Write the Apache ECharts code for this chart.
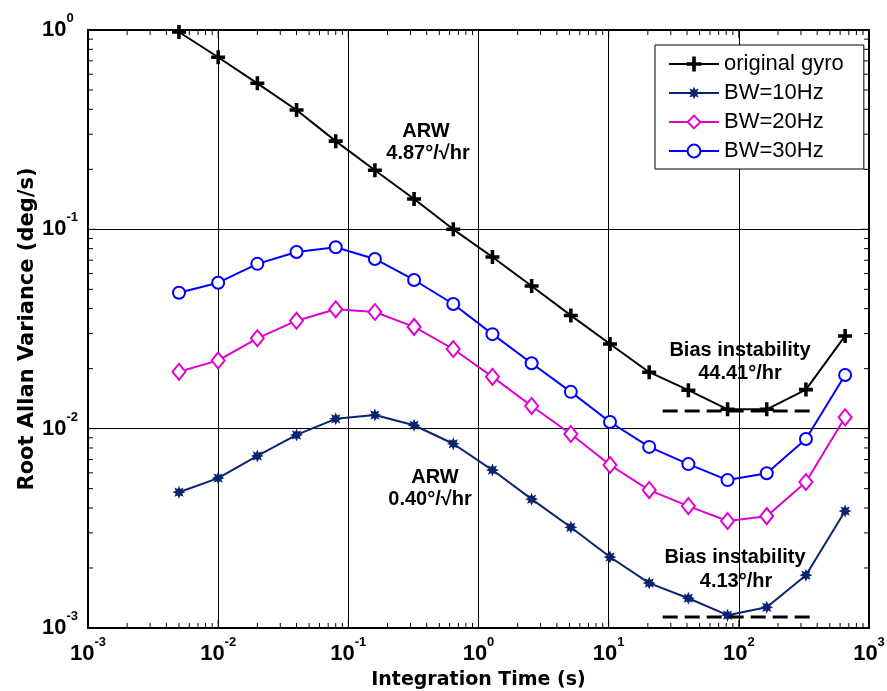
<!DOCTYPE html>
<html><head><meta charset="utf-8">
<script src="https://cdn.jsdelivr.net/npm/echarts@6/dist/echarts.min.js"></script>
<style>html,body{margin:0;padding:0;background:#fff}#c{width:887px;height:691px}</style>
</head><body><div id="c"></div>
<script>
// ---- data ----
const tau = [0.005, 0.01, 0.02, 0.04, 0.08, 0.16, 0.32, 0.64, 1.28, 2.56, 5.12, 10.24, 20.48, 40.96, 81.92, 163.84, 327.68, 655.36];
const originalGyro = [0.977, 0.73, 0.54, 0.397, 0.277, 0.198, 0.142, 0.100, 0.0726, 0.052, 0.037, 0.0266, 0.0192, 0.0156, 0.0125, 0.0125, 0.0157, 0.0292];
const bw10 = [0.0048, 0.00565, 0.0073, 0.0093, 0.0112, 0.0117, 0.0104, 0.0084, 0.0062, 0.00443, 0.0032, 0.00227, 0.00168, 0.00141, 0.00116, 0.00127, 0.00184, 0.00386];
const bw20 = [0.0193, 0.0220, 0.0284, 0.0348, 0.0397, 0.0385, 0.0324, 0.0251, 0.0182, 0.0130, 0.0094, 0.00657, 0.00492, 0.00409, 0.00344, 0.00364, 0.0054, 0.0114];
const bw30 = [0.0481, 0.0540, 0.0671, 0.0770, 0.0813, 0.071, 0.0557, 0.0422, 0.0298, 0.0213, 0.0153, 0.0108, 0.0081, 0.00664, 0.00552, 0.00598, 0.00887, 0.0186];
const biasOrigX = [26, 371];
const biasOrigY = [0.01226, 0.01226];
const biasBw10X = [26, 371];
const biasBw10Y = [0.001135, 0.001135];
const seriesNames = ['original gyro', 'BW=10Hz', 'BW=20Hz', 'BW=30Hz'];
const xDecades = [0.001, 0.01, 0.1, 1, 10, 100, 1000];
const yDecades = [0.001, 0.01, 0.1, 1];
const minorMult = [2, 3, 4, 5, 6, 7, 8, 9];
const notes = ['ARW', '4.87°/√hr', 'ARW', '0.40°/√hr', 'Bias instability', '44.41°/hr', 'Bias instability', '4.13°/hr'];
const xTitle = 'Integration Time (s)';
const yTitle = 'Root Allan Variance (deg/s)';

// ---- styles ----
const C_BLACK = '#000000', C_NAVY = '#0b2470', C_MAG = '#e000d0', C_BLUE = '#0000ff';
const FONT = '"Liberation Sans", Arial, sans-serif';
const plusPath = 'path://M-0.9,-7L0.9,-7L0.9,-0.9L7,-0.9L7,0.9L0.9,0.9L0.9,7L-0.9,7L-0.9,0.9L-7,0.9L-7,-0.9L-0.9,-0.9Z';
function starPath(n, ro, ri) {
  let s = 'path://';
  for (let i = 0; i < 2 * n; i++) {
    const r = i % 2 ? ri : ro;
    const a = Math.PI * i / n - Math.PI / 2;
    s += (i ? 'L' : 'M') + (r * Math.cos(a)).toFixed(3) + ',' + (r * Math.sin(a)).toFixed(3);
  }
  return s + 'Z';
}
const starSym = starPath(8, 7, 3.8);

function pairs(xs, ys) { return xs.map((x, i) => [x, ys[i]]); }
const xTicks = [], yTicks = [];
xDecades.forEach(d => { xTicks.push([d, 1, 1]); if (d < 1000) minorMult.forEach(m => xTicks.push([d * m, 1, 0])); });
yDecades.forEach(d => { yTicks.push([1, d, 1]); if (d < 1) minorMult.forEach(m => yTicks.push([1, d * m, 0])); });

const chart = echarts.init(document.getElementById('c'), null, { renderer: 'canvas' });
const expLabel = v => '{b|10}{s|' + Math.round(Math.log10(v)) + '}';
const tickLine = (x1, y1, x2, y2) => ({ type: 'line', shape: { x1, y1, x2, y2 }, style: { stroke: '#000', lineWidth: 1 } });
const labelRich = {
  b: { fontFamily: FONT, fontWeight: 'bold', fontSize: 22, lineHeight: 36, color: '#000' },
  s: { fontFamily: FONT, fontWeight: 'bold', fontSize: 13, lineHeight: 13, verticalAlign: 'top', color: '#000' }
};

function lineSeries(name, data, color, symbol, size, extra) {
  return Object.assign({
    name, type: 'line', data: pairs(tau, data), symbol, symbolSize: size,
    lineStyle: { color, width: 2 }, itemStyle: { color, borderColor: color, borderWidth: 2 },
    showAllSymbol: true, z: 5, animation: false
  }, extra || {});
}

const txt = (text, x, y) => ({ type: 'text', x, y, style: { text, textAlign: 'center', textVerticalAlign: 'middle', font: 'bold 20px ' + FONT, fill: '#000' }, z: 20 });

chart.setOption({
  animation: false,
  backgroundColor: '#fff',
  grid: { left: 88, right: 18, top: 30, bottom: 63, containLabel: false, outerBoundsMode: 'none', show: true, borderColor: '#000', borderWidth: 2, backgroundColor: 'transparent' },
  xAxis: {
    type: 'log', logBase: 10, min: 0.001, max: 1000,
    name: xTitle, nameLocation: 'middle', nameGap: 43, nameMoveOverlap: false,
    nameTextStyle: { fontFamily: '"DejaVu Sans", sans-serif', fontWeight: 'bold', fontSize: 19, color: '#000' },
    axisLine: { show: false }, axisTick: { show: false },
    splitLine: { show: true, lineStyle: { color: '#000', width: 1 } },
    axisLabel: { margin: 8, formatter: expLabel, rich: labelRich }
  },
  yAxis: {
    type: 'log', logBase: 10, min: 0.001, max: 1,
    name: yTitle, nameLocation: 'middle', nameGap: 50, nameMoveOverlap: false,
    nameTextStyle: { fontFamily: '"DejaVu Sans", sans-serif', fontWeight: 'bold', fontSize: 21, color: '#000' },
    axisLine: { show: false }, axisTick: { show: false },
    splitLine: { show: true, lineStyle: { color: '#000', width: 1 } },
    axisLabel: { margin: 46, align: 'left', formatter: expLabel, rich: labelRich }
  },
  legend: {
    show: true, orient: 'vertical', left: 655, top: 45,
    data: seriesNames,
    backgroundColor: '#fff', borderColor: '#000', borderWidth: 1, borderRadius: 0,
    padding: [8, 20, 7, 13], itemGap: 7, itemWidth: 50, itemHeight: 16,
    textStyle: { fontFamily: FONT, fontSize: 22, color: '#000' },
    selectedMode: false
  },
  series: [
    lineSeries(seriesNames[0], originalGyro, C_BLACK, plusPath, 12),
    lineSeries(seriesNames[1], bw10, C_NAVY, starSym, 13, { itemStyle: { color: C_NAVY, borderWidth: 0 } }),
    lineSeries(seriesNames[2], bw20, C_MAG, 'emptyDiamond', [13, 16]),
    lineSeries(seriesNames[3], bw30, C_BLUE, 'emptyCircle', 12),
    { name: 'biasOrig', type: 'line', data: pairs(biasOrigX, biasOrigY), symbol: 'none', lineStyle: { color: '#000', width: 3, type: [15, 7] }, z: 6 },
    { name: 'biasBw10', type: 'line', data: pairs(biasBw10X, biasBw10Y), symbol: 'none', lineStyle: { color: '#000', width: 3, type: [15, 7] }, z: 6 },
    {
      name: 'xticks', type: 'custom', data: xTicks, z: 4, silent: true,
      renderItem: (params, api) => {
        const cs = params.coordSys; const p = api.coord([api.value(0), 1]);
        const len = api.value(2) ? 8 : 5;
        return { type: 'group', children: [tickLine(p[0], cs.y + cs.height, p[0], cs.y + cs.height - len), tickLine(p[0], cs.y, p[0], cs.y + len)] };
      }
    },
    {
      name: 'yticks', type: 'custom', data: yTicks, z: 4, silent: true,
      renderItem: (params, api) => {
        const cs = params.coordSys; const p = api.coord([1, api.value(1)]);
        const len = api.value(2) ? 8 : 5;
        return { type: 'group', children: [tickLine(cs.x, p[1], cs.x + len, p[1]), tickLine(cs.x + cs.width, p[1], cs.x + cs.width - len, p[1])] };
      }
    }
  ],
  graphic: [
    txt(notes[0], 426, 131), txt(notes[1], 428, 153),
    txt(notes[2], 435, 477), txt(notes[3], 430, 499),
    txt(notes[4], 740, 350), txt(notes[5], 740, 373),
    txt(notes[6], 735, 557), txt(notes[7], 736, 581)
  ]
});
</script></body></html>
